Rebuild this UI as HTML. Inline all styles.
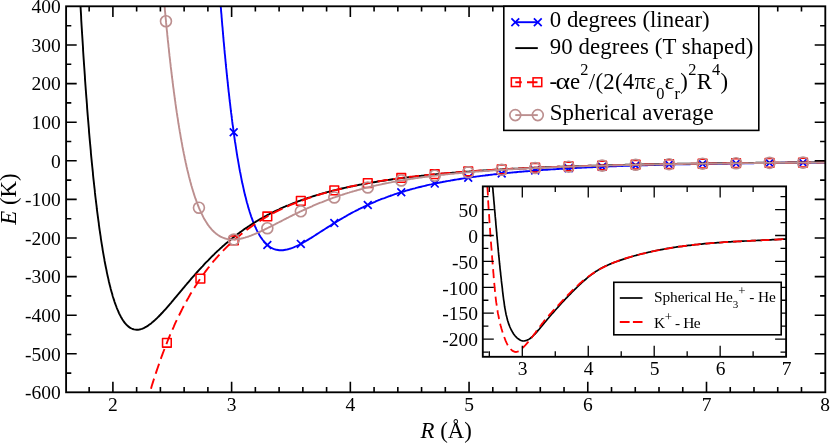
<!DOCTYPE html>
<html><head><meta charset="utf-8"><title>Potential energy curves</title>
<style>html,body{margin:0;padding:0;background:#fff;}body{width:830px;height:443px;overflow:hidden;font-family:"Liberation Serif",serif;}svg text{font-family:"Liberation Serif",serif;}</style></head>
<body>
<svg width="830" height="443" viewBox="0 0 830 443" style="display:block;will-change:transform">
<rect x="0" y="0" width="830" height="443" fill="#fff"/>
<defs><clipPath id="cm"><rect x="66.1" y="6.3" width="759.1999999999999" height="386.0"/></clipPath>
<clipPath id="ci"><rect x="482.8" y="186.4" width="303.3" height="170.4"/></clipPath></defs>
<g clip-path="url(#cm)" fill="none" stroke-linejoin="round">
<path d="M217.4,-39.4L217.6,-37.1L217.7,-34.9L217.9,-32.6L218.0,-30.4L218.2,-28.2L218.3,-26.0L218.5,-23.8L218.7,-21.7L218.8,-19.5L219.0,-17.4L219.1,-15.2L219.3,-13.1L219.4,-11.0L219.6,-8.9L219.7,-6.9L219.9,-4.8L220.1,-2.8L220.2,-0.7L220.4,1.3L220.5,3.3L220.7,5.3L220.8,7.3L221.0,9.2L221.1,11.2L221.3,13.1L221.5,15.0L221.6,17.0L221.8,18.9L221.9,20.8L222.1,22.6L222.2,24.5L222.4,26.4L222.6,28.2L222.7,30.0L222.9,31.9L223.0,33.7L223.2,35.5L223.3,37.2L223.5,39.0L223.6,40.8L223.8,42.5L224.0,44.3L224.1,46.0L224.3,47.7L224.4,49.4L224.6,51.1L224.7,52.8L224.9,54.5L225.1,56.1L225.2,57.8L225.4,59.4L225.5,61.0L225.7,62.6L225.8,64.2L226.0,65.8L226.1,67.4L226.3,69.0L226.5,70.6L226.6,72.1L226.8,73.6L226.9,75.2L227.1,76.7L227.2,78.2L227.4,79.7L227.6,81.2L227.7,82.7L227.9,84.1L228.0,85.6L228.2,87.0L228.3,88.5L228.5,89.9L228.6,91.3L228.8,92.7L229.0,94.1L229.1,95.5L229.3,96.9L229.4,98.3L229.6,99.6L229.7,101.0L229.9,102.3L230.1,103.7L230.2,105.0L230.4,106.3L230.5,107.6L230.7,108.9L230.8,110.2L231.0,111.5L231.1,112.7L231.3,114.0L231.5,115.2L231.6,116.5L231.8,117.7L231.9,118.9L232.1,120.2L232.2,121.4L232.4,122.6L232.5,123.8L232.9,126.1L233.2,128.4L233.5,130.7L233.8,133.0L234.1,135.2L234.4,137.4L234.7,139.5L235.0,141.7L235.4,143.8L235.7,145.8L236.0,147.9L236.3,149.9L236.6,151.8L236.9,153.8L237.2,155.7L237.5,157.6L237.9,159.5L238.2,161.3L238.5,163.1L238.8,164.9L239.1,166.6L239.4,168.3L239.7,170.0L240.0,171.7L240.4,173.3L240.7,175.0L241.0,176.6L241.3,178.1L241.6,179.7L241.9,181.2L242.2,182.7L242.5,184.1L242.9,185.6L243.2,187.0L243.5,188.4L243.8,189.8L244.1,191.2L244.4,192.5L244.7,193.8L245.0,195.1L245.4,196.4L245.7,197.6L246.0,198.8L246.3,200.0L246.6,201.2L246.9,202.4L247.4,204.1L247.9,205.8L248.3,207.4L248.8,209.0L249.3,210.5L249.7,212.0L250.2,213.5L250.7,214.9L251.1,216.3L251.6,217.6L252.1,218.9L252.5,220.2L253.0,221.4L253.5,222.6L253.9,223.8L254.4,224.9L255.0,226.4L255.7,227.7L256.3,229.1L256.9,230.4L257.5,231.6L258.2,232.8L258.8,233.9L259.4,235.0L260.0,236.0L260.8,237.3L261.6,238.4L262.4,239.5L263.2,240.5L263.9,241.5L264.9,242.6L265.8,243.5L266.7,244.4L267.7,245.3L268.6,246.0L269.7,246.8L270.8,247.5L271.9,248.1L273.0,248.6L274.2,249.1L275.5,249.5L276.7,249.8L278.0,250.0L279.2,250.2L280.5,250.2L281.7,250.2L283.0,250.2L284.2,250.0L285.5,249.8L286.7,249.6L288.0,249.3L289.2,248.9L290.5,248.5L291.7,248.1L293.0,247.6L294.2,247.1L295.5,246.5L296.6,246.0L297.7,245.5L298.8,245.0L299.9,244.4L300.9,243.8L302.0,243.2L303.1,242.6L304.2,242.0L305.3,241.4L306.4,240.7L307.5,240.1L308.6,239.4L309.7,238.7L310.8,238.1L311.9,237.4L313.0,236.7L314.1,236.0L315.2,235.3L316.2,234.6L317.3,233.9L318.4,233.2L319.5,232.5L320.6,231.8L321.7,231.1L322.8,230.4L323.9,229.7L325.0,229.0L326.1,228.3L327.2,227.6L328.3,226.9L329.4,226.2L330.5,225.5L331.6,224.8L332.6,224.1L333.7,223.4L334.8,222.8L335.9,222.1L337.0,221.4L338.1,220.8L339.2,220.1L340.3,219.4L341.4,218.8L342.5,218.2L343.6,217.5L344.7,216.9L345.8,216.3L346.9,215.6L347.9,215.0L349.0,214.4L350.1,213.8L351.2,213.2L352.3,212.6L353.4,212.0L354.5,211.5L355.6,210.9L356.7,210.3L357.8,209.8L358.9,209.2L360.0,208.7L361.1,208.1L362.2,207.6L363.3,207.1L364.3,206.5L365.4,206.0L366.5,205.5L367.6,205.0L368.7,204.5L370.0,203.9L371.2,203.4L372.5,202.8L373.7,202.3L375.0,201.8L376.2,201.2L377.5,200.7L378.7,200.2L380.0,199.7L381.2,199.2L382.5,198.7L383.7,198.3L385.0,197.8L386.2,197.3L387.5,196.9L388.7,196.4L390.0,196.0L391.2,195.5L392.5,195.1L393.7,194.7L395.0,194.2L396.2,193.8L397.4,193.4L398.7,193.0L399.9,192.6L401.2,192.2L402.4,191.8L403.7,191.5L404.9,191.1L406.2,190.7L407.4,190.3L408.7,190.0L409.9,189.6L411.2,189.3L412.4,188.9L413.7,188.6L414.9,188.3L416.2,187.9L417.4,187.6L418.7,187.3L419.9,187.0L421.2,186.7L422.4,186.4L423.7,186.1L424.9,185.8L426.2,185.5L427.4,185.2L428.7,184.9L429.9,184.6L431.2,184.4L432.4,184.1L433.7,183.8L434.9,183.6L436.2,183.3L437.4,183.0L438.7,182.8L439.9,182.5L441.2,182.3L442.4,182.0L443.7,181.8L444.9,181.6L446.2,181.3L447.4,181.1L448.7,180.9L449.9,180.7L451.2,180.4L452.4,180.2L453.7,180.0L454.9,179.8L456.2,179.6L457.4,179.4L458.7,179.2L459.9,179.0L461.2,178.8L462.4,178.6L463.7,178.4L464.9,178.2L466.2,178.0L467.4,177.8L468.7,177.6L469.9,177.5L471.2,177.3L472.4,177.1L473.7,176.9L474.9,176.8L476.2,176.6L477.4,176.4L478.7,176.3L479.9,176.1L481.1,175.9L482.4,175.8L483.6,175.6L484.9,175.5L486.1,175.3L487.4,175.2L488.6,175.0L489.9,174.9L491.1,174.7L492.4,174.6L493.6,174.4L494.9,174.3L496.1,174.2L497.4,174.0L498.6,173.9L499.9,173.7L501.1,173.6L502.4,173.5L503.6,173.4L504.9,173.2L506.1,173.1L507.4,173.0L508.6,172.9L509.9,172.7L511.1,172.6L512.4,172.5L513.6,172.4L514.9,172.3L516.1,172.2L517.4,172.0L518.6,171.9L519.9,171.8L521.1,171.7L522.4,171.6L523.6,171.5L524.9,171.4L526.1,171.3L527.4,171.2L528.6,171.1L529.9,171.0L531.1,170.9L532.4,170.8L533.6,170.7L534.9,170.6L536.1,170.5L537.4,170.4L538.6,170.3L539.9,170.2L541.1,170.1L542.4,170.0L543.6,169.9L544.9,169.9L546.1,169.8L547.4,169.7L548.6,169.6L549.9,169.5L551.1,169.4L552.4,169.4L553.6,169.3L554.9,169.2L556.1,169.1L557.4,169.0L558.6,169.0L559.9,168.9L561.1,168.8L562.3,168.7L563.6,168.7L564.8,168.6L566.1,168.5L567.3,168.4L568.6,168.4L569.8,168.3L571.1,168.2L572.3,168.2L573.6,168.1L574.8,168.0L576.1,168.0L577.3,167.9L578.6,167.8L579.8,167.8L581.1,167.7L582.3,167.6L583.6,167.6L584.8,167.5L586.1,167.5L587.3,167.4L588.6,167.3L589.8,167.3L591.1,167.2L592.3,167.2L593.6,167.1L594.8,167.1L596.1,167.0L597.3,166.9L598.6,166.9L599.8,166.8L601.1,166.8L602.3,166.7L603.6,166.7L604.8,166.6L606.1,166.6L607.3,166.5L608.6,166.5L609.8,166.4L611.1,166.4L612.3,166.3L613.6,166.3L614.8,166.2L616.1,166.2L617.3,166.1L618.6,166.1L619.8,166.1L621.1,166.0L622.3,166.0L623.6,165.9L624.8,165.9L626.1,165.8L627.3,165.8L628.6,165.8L629.8,165.7L631.1,165.7L632.3,165.6L633.6,165.6L634.8,165.6L636.1,165.5L637.3,165.5L638.6,165.4L639.8,165.4L641.1,165.4L642.3,165.3L643.6,165.3L644.8,165.2L646.0,165.2L647.3,165.2L648.5,165.1L649.8,165.1L651.0,165.1L652.3,165.0L653.5,165.0L654.8,165.0L656.0,164.9L657.3,164.9L658.5,164.9L659.8,164.8L661.0,164.8L662.3,164.8L663.5,164.7L664.8,164.7L666.0,164.7L667.3,164.7L668.5,164.6L669.8,164.6L671.0,164.6L672.3,164.5L673.5,164.5L674.8,164.5L676.0,164.4L677.3,164.4L678.5,164.4L679.8,164.4L681.0,164.3L682.3,164.3L683.5,164.3L684.8,164.3L686.0,164.2L687.3,164.2L688.5,164.2L689.8,164.2L691.0,164.1L692.3,164.1L693.5,164.1L694.8,164.1L696.0,164.0L697.3,164.0L698.5,164.0L699.8,164.0L701.0,163.9L702.3,163.9L703.5,163.9L704.8,163.9L706.0,163.9L707.3,163.8L708.5,163.8L709.8,163.8L711.0,163.8L712.3,163.7L713.5,163.7L714.8,163.7L716.0,163.7L717.3,163.7L718.5,163.6L719.8,163.6L721.0,163.6L722.3,163.6L723.5,163.6L724.8,163.5L726.0,163.5L727.3,163.5L728.5,163.5L729.7,163.5L731.0,163.5L732.2,163.4L733.5,163.4L734.7,163.4L736.0,163.4L737.2,163.4L738.5,163.3L739.7,163.3L741.0,163.3L742.2,163.3L743.5,163.3L744.7,163.3L746.0,163.2L747.2,163.2L748.5,163.2L749.7,163.2L751.0,163.2L752.2,163.2L753.5,163.2L754.7,163.1L756.0,163.1L757.2,163.1L758.5,163.1L759.7,163.1L761.0,163.1L762.2,163.0L763.5,163.0L764.7,163.0L766.0,163.0L767.2,163.0L768.5,163.0L769.7,163.0L771.0,163.0L772.2,162.9L773.5,162.9L774.7,162.9L776.0,162.9L777.2,162.9L778.5,162.9L779.7,162.9L781.0,162.8L782.2,162.8L783.5,162.8L784.7,162.8L786.0,162.8L787.2,162.8L788.5,162.8L789.7,162.8L791.0,162.7L792.2,162.7L793.5,162.7L794.7,162.7L796.0,162.7L797.2,162.7L798.5,162.7L799.7,162.7L801.0,162.7L802.2,162.6L803.5,162.6L804.7,162.6L806.0,162.6L807.2,162.6L808.5,162.6L809.7,162.6L810.9,162.6L812.2,162.6L813.4,162.6L814.7,162.5L815.9,162.5L817.2,162.5L818.4,162.5L819.7,162.5L820.9,162.5L822.2,162.5L823.4,162.5L824.7,162.5L825.9,162.5L827.2,162.4L828.4,162.4L829.7,162.4L830.9,162.4L832.2,162.4L832.3,162.4" stroke="#0000ff" stroke-width="1.9"/>
<path d="M229.80,128.40L237.60,136.20M229.80,136.20L237.60,128.40" stroke="#0000ff" stroke-width="1.7"/>
<path d="M263.44,241.08L271.24,248.88M263.44,248.88L271.24,241.08" stroke="#0000ff" stroke-width="1.7"/>
<path d="M296.92,240.00L304.72,247.80M296.92,247.80L304.72,240.00" stroke="#0000ff" stroke-width="1.7"/>
<path d="M330.40,219.19L338.20,226.99M330.40,226.99L338.20,219.19" stroke="#0000ff" stroke-width="1.7"/>
<path d="M363.88,201.03L371.68,208.83M363.88,208.83L371.68,201.03" stroke="#0000ff" stroke-width="1.7"/>
<path d="M397.36,188.30L405.16,196.10M397.36,196.10L405.16,188.30" stroke="#0000ff" stroke-width="1.7"/>
<path d="M430.84,179.70L438.64,187.50M430.84,187.50L438.64,179.70" stroke="#0000ff" stroke-width="1.7"/>
<path d="M464.32,173.81L472.12,181.61M464.32,181.61L472.12,173.81" stroke="#0000ff" stroke-width="1.7"/>
<path d="M497.80,169.66L505.60,177.46M497.80,177.46L505.60,169.66" stroke="#0000ff" stroke-width="1.7"/>
<path d="M531.28,166.67L539.08,174.47M531.28,174.47L539.08,166.67" stroke="#0000ff" stroke-width="1.7"/>
<path d="M564.76,164.47L572.56,172.27M564.76,172.27L572.56,164.47" stroke="#0000ff" stroke-width="1.7"/>
<path d="M598.24,162.84L606.04,170.64M598.24,170.64L606.04,162.84" stroke="#0000ff" stroke-width="1.7"/>
<path d="M631.72,161.62L639.52,169.42M631.72,169.42L639.52,161.62" stroke="#0000ff" stroke-width="1.7"/>
<path d="M665.20,160.71L673.00,168.51M665.20,168.51L673.00,160.71" stroke="#0000ff" stroke-width="1.7"/>
<path d="M698.68,160.01L706.48,167.81M698.68,167.81L706.48,160.01" stroke="#0000ff" stroke-width="1.7"/>
<path d="M732.16,159.48L739.96,167.28M732.16,167.28L739.96,159.48" stroke="#0000ff" stroke-width="1.7"/>
<path d="M765.64,159.07L773.44,166.87M765.64,166.87L773.44,159.07" stroke="#0000ff" stroke-width="1.7"/>
<path d="M799.12,158.74L806.92,166.54M799.12,166.54L806.92,158.74" stroke="#0000ff" stroke-width="1.7"/>
<path d="M78.2,-37.3L78.4,-33.5L78.6,-29.8L78.8,-26.1L79.0,-22.4L79.2,-18.7L79.3,-15.1L79.5,-11.6L79.7,-8.0L79.9,-4.5L80.1,-1.0L80.3,2.4L80.5,5.8L80.7,9.2L80.9,12.6L81.1,15.9L81.2,19.2L81.4,22.5L81.6,25.7L81.8,28.9L82.0,32.1L82.2,35.2L82.4,38.3L82.6,41.4L82.8,44.5L83.0,47.5L83.1,50.5L83.3,53.5L83.5,56.5L83.7,59.4L83.9,62.3L84.1,65.2L84.3,68.0L84.5,70.8L84.7,73.6L84.9,76.4L85.0,79.1L85.2,81.8L85.4,84.5L85.6,87.2L85.8,89.9L86.0,92.5L86.2,95.1L86.4,97.7L86.6,100.2L86.8,102.8L87.0,105.3L87.1,107.7L87.3,110.2L87.5,112.6L87.7,115.1L87.9,117.5L88.1,119.8L88.3,122.2L88.5,124.5L88.7,126.8L88.9,129.1L89.0,131.4L89.2,133.7L89.4,135.9L89.6,138.1L89.8,140.3L90.0,142.5L90.2,144.6L90.4,146.7L90.6,148.8L90.8,150.9L90.9,153.0L91.1,155.1L91.3,157.1L91.5,159.1L91.7,161.1L91.9,163.1L92.1,165.1L92.3,167.0L92.5,168.9L92.7,170.8L92.9,172.7L93.0,174.6L93.2,176.5L93.4,178.3L93.6,180.1L93.8,181.9L94.0,183.7L94.2,185.5L94.4,187.3L94.6,189.0L94.8,190.7L94.9,192.4L95.1,194.1L95.3,195.8L95.5,197.5L95.7,199.1L95.9,200.7L96.1,202.4L96.3,204.0L96.5,205.5L96.7,207.1L96.8,208.7L97.0,210.2L97.2,211.7L97.4,213.2L97.6,214.7L97.8,216.2L98.0,217.7L98.2,219.2L98.4,220.6L98.6,222.0L98.8,223.4L98.9,224.8L99.1,226.2L99.3,227.6L99.5,229.0L99.7,230.3L99.9,231.6L100.1,233.0L100.3,234.3L100.5,235.6L100.7,236.8L100.8,238.1L101.0,239.4L101.2,240.6L101.4,241.8L101.6,243.1L101.8,244.3L102.0,245.5L102.4,247.8L102.7,250.1L103.1,252.4L103.5,254.6L103.9,256.8L104.3,258.9L104.6,261.0L105.0,263.0L105.4,265.0L105.8,267.0L106.2,268.9L106.6,270.8L106.9,272.6L107.3,274.4L107.7,276.2L108.1,277.9L108.5,279.6L108.8,281.2L109.2,282.8L109.6,284.4L110.0,285.9L110.4,287.4L110.7,288.9L111.1,290.3L111.5,291.7L111.9,293.1L112.3,294.4L112.6,295.7L113.0,297.0L113.4,298.2L113.8,299.4L114.2,300.6L114.5,301.7L115.1,303.4L115.7,305.0L116.3,306.5L116.8,308.0L117.4,309.4L118.0,310.7L118.5,312.0L119.1,313.3L119.7,314.5L120.3,315.6L120.8,316.7L121.6,318.0L122.3,319.3L123.1,320.5L123.9,321.6L124.6,322.6L125.4,323.5L126.3,324.6L127.3,325.5L128.2,326.4L129.2,327.1L130.3,327.9L131.5,328.5L132.6,329.0L134.0,329.4L135.3,329.6L136.6,329.7L138.0,329.7L139.3,329.5L140.6,329.2L141.9,328.8L143.1,328.3L144.2,327.8L145.4,327.2L146.5,326.6L147.7,325.9L148.8,325.1L149.9,324.3L151.1,323.4L152.0,322.6L153.0,321.8L153.9,321.0L154.9,320.1L155.8,319.3L156.8,318.4L157.7,317.4L158.7,316.5L159.6,315.5L160.6,314.5L161.5,313.5L162.5,312.5L163.5,311.4L164.4,310.4L165.4,309.3L166.3,308.3L167.3,307.2L168.2,306.1L169.2,305.0L170.1,303.9L171.1,302.8L172.0,301.6L173.0,300.5L173.9,299.4L174.9,298.2L175.8,297.1L176.8,296.0L177.7,294.8L178.7,293.7L179.6,292.6L180.6,291.4L181.5,290.3L182.5,289.1L183.4,288.0L184.4,286.9L185.3,285.7L186.3,284.6L187.2,283.5L188.2,282.4L189.1,281.3L190.1,280.2L191.0,279.0L192.0,277.9L192.9,276.9L193.9,275.8L194.9,274.7L195.8,273.6L196.8,272.5L197.7,271.5L198.7,270.4L199.6,269.4L200.6,268.3L201.5,267.3L202.5,266.3L203.4,265.3L204.4,264.2L205.3,263.2L206.3,262.2L207.2,261.3L208.2,260.3L209.1,259.3L210.1,258.3L211.0,257.4L212.0,256.4L212.9,255.5L213.9,254.6L214.8,253.7L215.8,252.7L216.7,251.8L217.7,250.9L218.6,250.1L219.6,249.2L220.5,248.3L221.5,247.5L222.4,246.6L223.4,245.8L224.3,244.9L225.3,244.1L226.2,243.3L227.2,242.5L228.2,241.7L229.1,240.9L230.1,240.1L231.0,239.3L232.0,238.5L232.9,237.8L233.9,237.0L234.8,236.3L235.8,235.5L236.9,234.7L238.0,233.8L239.2,232.9L240.3,232.1L241.5,231.3L242.6,230.5L243.8,229.6L244.9,228.8L246.0,228.1L247.2,227.3L248.3,226.5L249.5,225.8L250.6,225.0L251.7,224.3L252.9,223.5L254.0,222.8L255.2,222.1L256.3,221.4L257.5,220.7L258.6,220.1L259.7,219.4L260.9,218.7L262.0,218.1L263.2,217.4L264.3,216.8L265.5,216.2L266.6,215.5L267.7,214.9L268.9,214.3L270.0,213.7L271.2,213.2L272.3,212.6L273.4,212.0L274.6,211.4L275.7,210.9L276.9,210.3L278.0,209.8L279.2,209.3L280.3,208.7L281.4,208.2L282.6,207.7L283.7,207.2L284.9,206.7L286.0,206.2L287.1,205.7L288.3,205.3L289.4,204.8L290.6,204.3L291.7,203.9L292.9,203.4L294.0,203.0L295.1,202.5L296.3,202.1L297.4,201.7L298.6,201.2L299.7,200.8L300.8,200.4L302.0,200.0L303.1,199.6L304.3,199.2L305.4,198.8L306.6,198.4L307.7,198.0L308.8,197.6L310.0,197.3L311.3,196.8L312.6,196.4L314.0,196.0L315.3,195.6L316.6,195.2L318.0,194.8L319.3,194.4L320.6,194.0L322.0,193.6L323.3,193.2L324.6,192.9L326.0,192.5L327.3,192.1L328.6,191.8L330.0,191.4L331.3,191.1L332.6,190.7L334.0,190.4L335.3,190.1L336.6,189.8L338.0,189.4L339.3,189.1L340.6,188.8L341.9,188.5L343.3,188.2L344.6,187.9L345.9,187.6L347.3,187.3L348.6,187.0L349.9,186.7L351.3,186.4L352.6,186.2L353.9,185.9L355.3,185.6L356.6,185.4L357.9,185.1L359.3,184.8L360.6,184.6L361.9,184.3L363.3,184.1L364.6,183.8L365.9,183.6L367.3,183.3L368.6,183.1L369.9,182.9L371.3,182.6L372.6,182.4L373.9,182.2L375.3,182.0L376.6,181.8L377.9,181.5L379.2,181.3L380.6,181.1L381.9,180.9L383.2,180.7L384.6,180.5L385.9,180.3L387.2,180.1L388.6,179.9L389.9,179.7L391.2,179.5L392.6,179.3L393.9,179.1L395.2,179.0L396.6,178.8L397.9,178.6L399.2,178.4L400.6,178.3L401.9,178.1L403.2,177.9L404.6,177.7L405.9,177.6L407.2,177.4L408.6,177.2L409.9,177.1L411.2,176.9L412.5,176.8L413.9,176.6L415.2,176.5L416.5,176.3L417.9,176.2L419.2,176.0L420.5,175.9L421.9,175.7L423.2,175.6L424.5,175.4L425.9,175.3L427.2,175.2L428.5,175.0L429.9,174.9L431.2,174.7L432.5,174.6L433.9,174.5L435.2,174.4L436.5,174.2L437.9,174.1L439.2,174.0L440.5,173.9L441.9,173.7L443.2,173.6L444.5,173.5L445.9,173.4L447.2,173.3L448.5,173.1L449.8,173.0L451.2,172.9L452.5,172.8L453.8,172.7L455.2,172.6L456.5,172.5L457.8,172.4L459.2,172.3L460.5,172.2L461.8,172.1L463.2,172.0L464.5,171.8L465.8,171.7L467.2,171.7L468.5,171.6L469.8,171.5L471.2,171.4L472.5,171.3L473.8,171.2L475.2,171.1L476.5,171.0L477.8,170.9L479.2,170.8L480.5,170.7L481.8,170.6L483.1,170.5L484.5,170.5L485.8,170.4L487.1,170.3L488.5,170.2L489.8,170.1L491.1,170.0L492.5,170.0L493.8,169.9L495.1,169.8L496.5,169.7L497.8,169.6L499.1,169.6L500.5,169.5L501.8,169.4L503.1,169.3L504.5,169.3L505.8,169.2L507.1,169.1L508.5,169.0L509.8,169.0L511.1,168.9L512.5,168.8L513.8,168.8L515.1,168.7L516.5,168.6L517.8,168.6L519.1,168.5L520.4,168.4L521.8,168.4L523.1,168.3L524.4,168.2L525.8,168.2L527.1,168.1L528.4,168.1L529.8,168.0L531.1,167.9L532.4,167.9L533.8,167.8L535.1,167.8L536.4,167.7L537.8,167.6L539.1,167.6L540.4,167.5L541.8,167.5L543.1,167.4L544.4,167.4L545.8,167.3L547.1,167.3L548.4,167.2L549.8,167.1L551.1,167.1L552.4,167.0L553.7,167.0L555.1,166.9L556.4,166.9L557.7,166.8L559.1,166.8L560.4,166.7L561.7,166.7L563.1,166.6L564.4,166.6L565.7,166.6L567.1,166.5L568.4,166.5L569.7,166.4L571.1,166.4L572.4,166.3L573.7,166.3L575.1,166.2L576.4,166.2L577.7,166.2L579.1,166.1L580.4,166.1L581.7,166.0L583.1,166.0L584.4,165.9L585.7,165.9L587.1,165.9L588.4,165.8L589.7,165.8L591.0,165.7L592.4,165.7L593.7,165.7L595.0,165.6L596.4,165.6L597.7,165.6L599.0,165.5L600.4,165.5L601.7,165.4L603.0,165.4L604.4,165.4L605.7,165.3L607.0,165.3L608.4,165.3L609.7,165.2L611.0,165.2L612.4,165.2L613.7,165.1L615.0,165.1L616.4,165.1L617.7,165.0L619.0,165.0L620.4,165.0L621.7,164.9L623.0,164.9L624.3,164.9L625.7,164.8L627.0,164.8L628.3,164.8L629.7,164.8L631.0,164.7L632.3,164.7L633.7,164.7L635.0,164.6L636.3,164.6L637.7,164.6L639.0,164.6L640.3,164.5L641.7,164.5L643.0,164.5L644.3,164.4L645.7,164.4L647.0,164.4L648.3,164.4L649.7,164.3L651.0,164.3L652.3,164.3L653.7,164.3L655.0,164.2L656.3,164.2L657.7,164.2L659.0,164.2L660.3,164.1L661.6,164.1L663.0,164.1L664.3,164.1L665.6,164.0L667.0,164.0L668.3,164.0L669.6,164.0L671.0,164.0L672.3,163.9L673.6,163.9L675.0,163.9L676.3,163.9L677.6,163.8L679.0,163.8L680.3,163.8L681.6,163.8L683.0,163.8L684.3,163.7L685.6,163.7L687.0,163.7L688.3,163.7L689.6,163.7L691.0,163.6L692.3,163.6L693.6,163.6L694.9,163.6L696.3,163.6L697.6,163.5L698.9,163.5L700.3,163.5L701.6,163.5L702.9,163.5L704.3,163.4L705.6,163.4L706.9,163.4L708.3,163.4L709.6,163.4L710.9,163.4L712.3,163.3L713.6,163.3L714.9,163.3L716.3,163.3L717.6,163.3L718.9,163.3L720.3,163.2L721.6,163.2L722.9,163.2L724.3,163.2L725.6,163.2L726.9,163.2L728.3,163.1L729.6,163.1L730.9,163.1L732.2,163.1L733.6,163.1L734.9,163.1L736.2,163.0L737.6,163.0L738.9,163.0L740.2,163.0L741.6,163.0L742.9,163.0L744.2,163.0L745.6,162.9L746.9,162.9L748.2,162.9L749.6,162.9L750.9,162.9L752.2,162.9L753.6,162.9L754.9,162.9L756.2,162.8L757.6,162.8L758.9,162.8L760.2,162.8L761.6,162.8L762.9,162.8L764.2,162.8L765.5,162.7L766.9,162.7L768.2,162.7L769.5,162.7L770.9,162.7L772.2,162.7L773.5,162.7L774.9,162.7L776.2,162.7L777.5,162.6L778.9,162.6L780.2,162.6L781.5,162.6L782.9,162.6L784.2,162.6L785.5,162.6L786.9,162.6L788.2,162.5L789.5,162.5L790.9,162.5L792.2,162.5L793.5,162.5L794.9,162.5L796.2,162.5L797.5,162.5L798.9,162.5L800.2,162.5L801.5,162.4L802.8,162.4L804.2,162.4L805.5,162.4L806.8,162.4L808.2,162.4L809.5,162.4L810.8,162.4L812.2,162.4L813.5,162.4L814.8,162.3L816.2,162.3L817.5,162.3L818.8,162.3L820.2,162.3L821.5,162.3L822.8,162.3L824.2,162.3L825.5,162.3L826.8,162.3L828.2,162.3L829.5,162.2L830.8,162.2L832.2,162.2L832.3,162.2" stroke="#000" stroke-width="1.9"/>
<path d="M140.0,428.9L141.0,424.9L142.0,421.0L143.0,417.2L143.9,413.5L144.9,409.8L145.9,406.2L146.9,402.6L147.9,399.1L148.9,395.7L149.9,392.3L150.9,389.0L151.8,385.8L152.8,382.6L153.8,379.5L154.8,376.4L155.8,373.4L156.8,370.4L157.8,367.5L158.8,364.6L159.7,361.8L160.7,359.1L161.7,356.3L162.7,353.7L163.7,351.0L164.7,348.4L165.7,345.9L166.7,343.4L167.6,341.0L168.6,338.5L169.6,336.2L170.6,333.8L171.6,331.5L172.6,329.3L173.6,327.1L174.5,324.9L175.5,322.7L176.5,320.6L177.5,318.5L178.5,316.5L179.5,314.5L180.5,312.5L181.5,310.5L182.4,308.6L183.4,306.7L184.4,304.9L185.4,303.1L186.4,301.3L187.4,299.5L188.4,297.8L189.4,296.0L190.3,294.3L191.3,292.7L192.3,291.1L193.3,289.4L194.3,287.9L195.3,286.3L196.3,284.8L197.3,283.2L198.2,281.8L199.2,280.3L200.2,278.8L201.2,277.4L202.2,276.0L203.2,274.6L204.2,273.3L205.2,271.9L206.1,270.6L207.1,269.3L208.1,268.0L209.1,266.8L210.1,265.5L211.1,264.3L212.1,263.1L213.0,261.9L214.0,260.7L215.0,259.6L216.0,258.4L217.0,257.3L218.0,256.2L219.0,255.1L220.0,254.0L220.9,253.0L221.9,251.9L222.9,250.9L223.9,249.9L224.9,248.9L225.9,247.9L226.9,246.9L227.9,245.9L228.8,245.0L229.8,244.1L230.8,243.1L231.8,242.2L232.8,241.3L233.8,240.4L234.8,239.6L235.8,238.7L236.7,237.9L237.7,237.0L238.7,236.2L239.7,235.4L240.7,234.6L241.7,233.8L242.7,233.0L243.6,232.2L244.6,231.5L245.6,230.7L246.6,230.0L247.6,229.3L248.6,228.5L249.6,227.8L250.6,227.1L251.5,226.4L252.5,225.7L254.5,224.4L256.5,223.1L258.5,221.8L260.4,220.6L262.4,219.4L264.4,218.2L266.4,217.0L268.3,215.9L270.3,214.8L272.3,213.8L274.2,212.7L276.2,211.7L278.2,210.7L280.2,209.7L282.1,208.8L284.1,207.9L286.1,207.0L288.1,206.1L290.0,205.2L292.0,204.4L294.0,203.6L296.0,202.8L297.9,202.0L299.9,201.2L301.9,200.5L303.9,199.8L305.8,199.1L307.8,198.4L309.8,197.7L311.8,197.0L313.7,196.4L315.7,195.7L317.7,195.1L319.7,194.5L321.6,193.9L323.6,193.4L325.6,192.8L327.6,192.2L329.5,191.7L331.5,191.2L333.5,190.6L335.5,190.1L337.4,189.6L339.4,189.1L341.4,188.7L343.3,188.2L345.3,187.7L347.3,187.3L349.3,186.9L351.2,186.4L353.2,186.0L355.2,185.6L357.2,185.2L359.1,184.8L361.1,184.4L363.1,184.0L365.1,183.6L367.0,183.3L369.0,182.9L371.0,182.6L373.0,182.2L374.9,181.9L376.9,181.6L378.9,181.2L380.9,180.9L382.8,180.6L384.8,180.3L386.8,180.0L388.8,179.7L390.7,179.4L392.7,179.1L394.7,178.9L396.7,178.6L398.6,178.3L400.6,178.1L402.6,177.8L404.5,177.6L406.5,177.3L408.5,177.1L410.5,176.8L412.4,176.6L414.4,176.4L416.4,176.1L418.4,175.9L420.3,175.7L422.3,175.5L424.3,175.3L426.3,175.1L428.2,174.9L430.2,174.7L432.2,174.5L434.2,174.3L436.1,174.1L438.1,173.9L440.1,173.7L442.1,173.5L444.0,173.4L446.0,173.2L448.0,173.0L450.0,172.9L451.9,172.7L453.9,172.5L455.9,172.4L457.9,172.2L459.8,172.1L461.8,171.9L463.8,171.8L465.8,171.6L467.7,171.5L469.7,171.3L471.7,171.2L473.6,171.1L475.6,170.9L477.6,170.8L479.6,170.7L481.5,170.5L483.5,170.4L485.5,170.3L487.5,170.2L489.4,170.0L491.4,169.9L493.4,169.8L495.4,169.7L497.3,169.6L499.3,169.5L501.3,169.4L503.3,169.3L505.2,169.1L507.2,169.0L509.2,168.9L511.2,168.8L513.1,168.7L515.1,168.6L517.1,168.5L519.1,168.5L521.0,168.4L523.0,168.3L525.0,168.2L527.0,168.1L528.9,168.0L530.9,167.9L532.9,167.8L534.8,167.7L536.8,167.7L538.8,167.6L540.8,167.5L542.7,167.4L544.7,167.3L546.7,167.3L548.7,167.2L550.6,167.1L552.6,167.0L554.6,167.0L556.6,166.9L558.5,166.8L560.5,166.8L562.5,166.7L564.5,166.6L566.4,166.6L568.4,166.5L570.4,166.4L572.4,166.4L574.3,166.3L576.3,166.2L578.3,166.2L580.3,166.1L582.2,166.1L584.2,166.0L586.2,165.9L588.2,165.9L590.1,165.8L592.1,165.8L594.1,165.7L596.1,165.7L598.0,165.6L600.0,165.6L602.0,165.5L603.9,165.5L605.9,165.4L607.9,165.4L609.9,165.3L611.8,165.3L613.8,165.2L615.8,165.2L617.8,165.1L619.7,165.1L621.7,165.0L623.7,165.0L625.7,164.9L627.6,164.9L629.6,164.9L631.6,164.8L633.6,164.8L635.5,164.7L637.5,164.7L639.5,164.7L641.5,164.6L643.4,164.6L645.4,164.5L647.4,164.5L649.4,164.5L651.3,164.4L653.3,164.4L655.3,164.4L657.3,164.3L659.2,164.3L661.2,164.2L663.2,164.2L665.2,164.2L667.1,164.1L669.1,164.1L671.1,164.1L673.0,164.0L675.0,164.0L677.0,164.0L679.0,163.9L680.9,163.9L682.9,163.9L684.9,163.9L686.9,163.8L688.8,163.8L690.8,163.8L692.8,163.7L694.8,163.7L696.7,163.7L698.7,163.7L700.7,163.6L702.7,163.6L704.6,163.6L706.6,163.6L708.6,163.5L710.6,163.5L712.5,163.5L714.5,163.4L716.5,163.4L718.5,163.4L720.4,163.4L722.4,163.4L724.4,163.3L726.4,163.3L728.3,163.3L730.3,163.3L732.3,163.2L734.2,163.2L736.2,163.2L738.2,163.2L740.2,163.1L742.1,163.1L744.1,163.1L746.1,163.1L748.1,163.1L750.0,163.0L752.0,163.0L754.0,163.0L756.0,163.0L757.9,163.0L759.9,162.9L761.9,162.9L763.9,162.9L765.8,162.9L767.8,162.9L769.8,162.9L771.8,162.8L773.7,162.8L775.7,162.8L777.7,162.8L779.7,162.8L781.6,162.7L783.6,162.7L785.6,162.7L787.6,162.7L789.5,162.7L791.5,162.7L793.5,162.6L795.5,162.6L797.4,162.6L799.4,162.6L801.4,162.6L803.3,162.6L805.3,162.6L807.3,162.5L809.3,162.5L811.2,162.5L813.2,162.5L815.2,162.5L817.2,162.5L819.1,162.5L821.1,162.4L823.1,162.4L825.1,162.4L827.0,162.4L829.0,162.4L830.0,162.4" stroke="#ff0000" stroke-width="1.9" stroke-dasharray="10.5 5.2" stroke-dashoffset="5.4"/>
<rect x="162.55" y="338.44" width="8.7" height="8.7" stroke="#ff0000" stroke-width="1.55"/>
<rect x="196.03" y="274.25" width="8.7" height="8.7" stroke="#ff0000" stroke-width="1.55"/>
<rect x="229.51" y="236.02" width="8.7" height="8.7" stroke="#ff0000" stroke-width="1.55"/>
<rect x="262.99" y="212.12" width="8.7" height="8.7" stroke="#ff0000" stroke-width="1.55"/>
<rect x="296.47" y="196.56" width="8.7" height="8.7" stroke="#ff0000" stroke-width="1.55"/>
<rect x="329.95" y="186.07" width="8.7" height="8.7" stroke="#ff0000" stroke-width="1.55"/>
<rect x="363.43" y="178.80" width="8.7" height="8.7" stroke="#ff0000" stroke-width="1.55"/>
<rect x="396.91" y="173.63" width="8.7" height="8.7" stroke="#ff0000" stroke-width="1.55"/>
<rect x="430.39" y="169.87" width="8.7" height="8.7" stroke="#ff0000" stroke-width="1.55"/>
<rect x="463.87" y="167.08" width="8.7" height="8.7" stroke="#ff0000" stroke-width="1.55"/>
<rect x="497.35" y="164.99" width="8.7" height="8.7" stroke="#ff0000" stroke-width="1.55"/>
<rect x="530.83" y="163.38" width="8.7" height="8.7" stroke="#ff0000" stroke-width="1.55"/>
<rect x="564.31" y="162.14" width="8.7" height="8.7" stroke="#ff0000" stroke-width="1.55"/>
<rect x="597.79" y="161.16" width="8.7" height="8.7" stroke="#ff0000" stroke-width="1.55"/>
<rect x="631.27" y="160.38" width="8.7" height="8.7" stroke="#ff0000" stroke-width="1.55"/>
<rect x="664.75" y="159.76" width="8.7" height="8.7" stroke="#ff0000" stroke-width="1.55"/>
<rect x="698.23" y="159.26" width="8.7" height="8.7" stroke="#ff0000" stroke-width="1.55"/>
<rect x="731.71" y="158.84" width="8.7" height="8.7" stroke="#ff0000" stroke-width="1.55"/>
<rect x="765.19" y="158.50" width="8.7" height="8.7" stroke="#ff0000" stroke-width="1.55"/>
<rect x="798.67" y="158.22" width="8.7" height="8.7" stroke="#ff0000" stroke-width="1.55"/>
<path d="M160.7,-39.7L160.8,-37.6L161.0,-35.4L161.2,-33.3L161.3,-31.2L161.5,-29.1L161.7,-27.0L161.9,-24.9L162.0,-22.8L162.2,-20.8L162.4,-18.8L162.5,-16.7L162.7,-14.7L162.9,-12.7L163.1,-10.7L163.2,-8.8L163.4,-6.8L163.6,-4.9L163.7,-2.9L163.9,-1.0L164.1,0.9L164.2,2.8L164.4,4.7L164.6,6.6L164.8,8.4L164.9,10.3L165.1,12.1L165.3,13.9L165.4,15.7L165.6,17.5L165.8,19.3L166.0,21.1L166.1,22.9L166.3,24.6L166.5,26.4L166.6,28.1L166.8,29.8L167.0,31.5L167.2,33.2L167.3,34.9L167.5,36.6L167.7,38.3L167.8,39.9L168.0,41.6L168.2,43.2L168.4,44.8L168.5,46.4L168.7,48.0L168.9,49.6L169.0,51.2L169.2,52.8L169.4,54.3L169.5,55.9L169.7,57.4L169.9,58.9L170.1,60.4L170.2,61.9L170.4,63.4L170.6,64.9L170.7,66.4L170.9,67.9L171.1,69.3L171.3,70.8L171.4,72.2L171.6,73.6L171.8,75.1L171.9,76.5L172.1,77.9L172.3,79.2L172.5,80.6L172.6,82.0L172.8,83.4L173.0,84.7L173.1,86.0L173.3,87.4L173.5,88.7L173.7,90.0L173.8,91.3L174.0,92.6L174.2,93.9L174.3,95.2L174.5,96.4L174.7,97.7L174.8,99.0L175.0,100.2L175.2,101.4L175.4,102.7L175.5,103.9L175.7,105.1L175.9,106.3L176.0,107.5L176.4,109.8L176.7,112.2L177.1,114.5L177.4,116.7L177.8,118.9L178.1,121.1L178.4,123.3L178.8,125.4L179.1,127.5L179.5,129.6L179.8,131.7L180.2,133.7L180.5,135.7L180.8,137.6L181.2,139.5L181.5,141.4L181.9,143.3L182.2,145.2L182.5,147.0L182.9,148.8L183.2,150.5L183.6,152.3L183.9,154.0L184.3,155.7L184.6,157.3L184.9,159.0L185.3,160.6L185.6,162.2L186.0,163.7L186.3,165.3L186.6,166.8L187.0,168.3L187.3,169.7L187.7,171.2L188.0,172.6L188.4,174.0L188.7,175.4L189.0,176.7L189.4,178.1L189.7,179.4L190.1,180.7L190.4,182.0L190.8,183.2L191.1,184.4L191.4,185.7L191.8,186.8L192.1,188.0L192.5,189.2L193.0,190.9L193.5,192.5L194.0,194.1L194.5,195.7L195.0,197.2L195.5,198.7L196.1,200.2L196.6,201.6L197.1,203.0L197.6,204.3L198.1,205.6L198.6,206.9L199.1,208.2L199.6,209.4L200.2,210.5L200.7,211.7L201.2,212.8L201.9,214.2L202.6,215.6L203.2,216.9L203.9,218.2L204.6,219.4L205.3,220.6L206.0,221.7L206.7,222.8L207.3,223.9L208.0,224.9L208.9,226.0L209.7,227.2L210.6,228.2L211.4,229.2L212.3,230.2L213.2,231.0L214.2,232.0L215.2,232.9L216.2,233.8L217.3,234.6L218.3,235.3L219.3,235.9L220.5,236.6L221.7,237.2L222.9,237.7L224.1,238.1L225.3,238.5L226.5,238.8L227.7,239.1L228.9,239.3L230.1,239.4L231.3,239.5L232.6,239.5L234.0,239.5L235.4,239.4L236.6,239.3L237.8,239.2L239.0,239.0L240.2,238.8L241.4,238.5L242.6,238.3L243.8,237.9L245.0,237.6L246.2,237.2L247.4,236.9L248.6,236.5L249.7,236.0L250.9,235.6L252.1,235.1L253.3,234.6L254.5,234.2L255.7,233.6L256.9,233.1L258.1,232.6L259.3,232.0L260.5,231.5L261.7,230.9L262.9,230.4L264.1,229.8L265.3,229.2L266.5,228.6L267.7,228.0L268.9,227.4L270.1,226.8L271.3,226.2L272.5,225.6L273.7,225.0L274.9,224.4L276.1,223.7L277.3,223.1L278.5,222.5L279.7,221.9L280.9,221.3L282.1,220.7L283.3,220.0L284.5,219.4L285.7,218.8L286.9,218.2L288.1,217.6L289.2,217.0L290.4,216.4L291.6,215.8L292.8,215.2L294.0,214.6L295.2,214.0L296.4,213.4L297.6,212.9L298.8,212.3L300.0,211.7L301.2,211.2L302.4,210.6L303.6,210.0L304.8,209.5L306.0,208.9L307.2,208.4L308.4,207.8L309.6,207.3L310.8,206.8L312.0,206.3L313.2,205.7L314.4,205.2L315.6,204.7L316.8,204.2L318.0,203.7L319.2,203.2L320.4,202.7L321.6,202.3L322.8,201.8L324.0,201.3L325.2,200.8L326.4,200.4L327.6,199.9L328.7,199.5L329.9,199.0L331.1,198.6L332.3,198.2L333.5,197.7L334.7,197.3L335.9,196.9L337.1,196.5L338.3,196.1L339.5,195.6L340.7,195.2L341.9,194.9L343.1,194.5L344.3,194.1L345.5,193.7L346.7,193.3L347.9,192.9L349.1,192.6L350.3,192.2L351.5,191.9L352.7,191.5L353.9,191.2L355.1,190.8L356.3,190.5L357.5,190.1L358.7,189.8L359.9,189.5L361.1,189.2L362.3,188.9L363.5,188.5L364.7,188.2L365.9,187.9L367.1,187.6L368.3,187.3L369.4,187.0L370.6,186.7L371.8,186.5L373.0,186.2L374.2,185.9L375.4,185.6L376.6,185.3L377.8,185.1L379.0,184.8L380.2,184.6L381.4,184.3L382.6,184.0L383.8,183.8L385.0,183.5L386.2,183.3L387.4,183.1L388.6,182.8L389.8,182.6L391.0,182.4L392.2,182.1L393.4,181.9L394.6,181.7L395.8,181.5L397.0,181.2L398.2,181.0L399.4,180.8L400.6,180.6L401.8,180.4L403.0,180.2L404.2,180.0L405.4,179.8L406.6,179.6L407.8,179.4L408.9,179.2L410.1,179.0L411.3,178.9L412.5,178.7L413.7,178.5L414.9,178.3L416.1,178.1L417.3,178.0L418.5,177.8L419.7,177.6L420.9,177.5L422.1,177.3L423.3,177.1L424.5,177.0L425.7,176.8L426.9,176.7L428.1,176.5L429.3,176.3L430.5,176.2L431.7,176.0L432.9,175.9L434.1,175.8L435.3,175.6L436.5,175.5L437.7,175.3L438.9,175.2L440.1,175.1L441.3,174.9L442.5,174.8L443.7,174.7L444.9,174.5L446.1,174.4L447.3,174.3L448.4,174.1L449.6,174.0L450.8,173.9L452.0,173.8L453.2,173.7L454.4,173.5L455.6,173.4L456.8,173.3L458.0,173.2L459.2,173.1L460.4,173.0L461.6,172.9L462.8,172.8L464.0,172.6L465.2,172.5L466.4,172.4L467.6,172.3L468.8,172.2L470.0,172.1L471.2,172.0L472.4,171.9L473.6,171.8L474.8,171.7L476.0,171.6L477.2,171.5L478.4,171.5L479.6,171.4L480.8,171.3L482.0,171.2L483.2,171.1L484.4,171.0L485.6,170.9L486.8,170.8L488.0,170.7L489.3,170.7L490.7,170.6L492.1,170.5L493.4,170.4L494.8,170.3L496.2,170.2L497.5,170.1L498.9,170.0L500.3,169.9L501.6,169.8L503.0,169.8L504.4,169.7L505.7,169.6L507.1,169.5L508.5,169.4L509.8,169.3L511.2,169.3L512.6,169.2L513.9,169.1L515.3,169.0L516.7,169.0L518.0,168.9L519.4,168.8L520.8,168.7L522.2,168.7L523.5,168.6L524.9,168.5L526.3,168.5L527.6,168.4L529.0,168.3L530.4,168.3L531.7,168.2L533.1,168.1L534.5,168.1L535.8,168.0L537.2,167.9L538.6,167.9L539.9,167.8L541.3,167.8L542.7,167.7L544.0,167.6L545.4,167.6L546.8,167.5L548.1,167.5L549.5,167.4L550.9,167.4L552.2,167.3L553.6,167.2L555.0,167.2L556.3,167.1L557.7,167.1L559.1,167.0L560.5,167.0L561.8,166.9L563.2,166.9L564.6,166.8L565.9,166.8L567.3,166.7L568.7,166.7L570.0,166.6L571.4,166.6L572.8,166.5L574.1,166.5L575.5,166.4L576.9,166.4L578.2,166.4L579.6,166.3L581.0,166.3L582.3,166.2L583.7,166.2L585.1,166.1L586.4,166.1L587.8,166.1L589.2,166.0L590.5,166.0L591.9,165.9L593.3,165.9L594.7,165.9L596.0,165.8L597.4,165.8L598.8,165.7L600.1,165.7L601.5,165.7L602.9,165.6L604.2,165.6L605.6,165.5L607.0,165.5L608.3,165.5L609.7,165.4L611.1,165.4L612.4,165.4L613.8,165.3L615.2,165.3L616.5,165.3L617.9,165.2L619.3,165.2L620.6,165.2L622.0,165.1L623.4,165.1L624.7,165.1L626.1,165.0L627.5,165.0L628.9,165.0L630.2,164.9L631.6,164.9L633.0,164.9L634.3,164.9L635.7,164.8L637.1,164.8L638.4,164.8L639.8,164.7L641.2,164.7L642.5,164.7L643.9,164.7L645.3,164.6L646.6,164.6L648.0,164.6L649.4,164.5L650.7,164.5L652.1,164.5L653.5,164.5L654.8,164.4L656.2,164.4L657.6,164.4L658.9,164.4L660.3,164.3L661.7,164.3L663.1,164.3L664.4,164.3L665.8,164.2L667.2,164.2L668.5,164.2L669.9,164.2L671.3,164.1L672.6,164.1L674.0,164.1L675.4,164.1L676.7,164.1L678.1,164.0L679.5,164.0L680.8,164.0L682.2,164.0L683.6,163.9L684.9,163.9L686.3,163.9L687.7,163.9L689.0,163.9L690.4,163.8L691.8,163.8L693.1,163.8L694.5,163.8L695.9,163.8L697.3,163.7L698.6,163.7L700.0,163.7L701.4,163.7L702.7,163.7L704.1,163.6L705.5,163.6L706.8,163.6L708.2,163.6L709.6,163.6L710.9,163.5L712.3,163.5L713.7,163.5L715.0,163.5L716.4,163.5L717.8,163.5L719.1,163.4L720.5,163.4L721.9,163.4L723.2,163.4L724.6,163.4L726.0,163.4L727.3,163.3L728.7,163.3L730.1,163.3L731.5,163.3L732.8,163.3L734.2,163.3L735.6,163.2L736.9,163.2L738.3,163.2L739.7,163.2L741.0,163.2L742.4,163.2L743.8,163.2L745.1,163.1L746.5,163.1L747.9,163.1L749.2,163.1L750.6,163.1L752.0,163.1L753.3,163.1L754.7,163.0L756.1,163.0L757.4,163.0L758.8,163.0L760.2,163.0L761.5,163.0L762.9,163.0L764.3,162.9L765.7,162.9L767.0,162.9L768.4,162.9L769.8,162.9L771.1,162.9L772.5,162.9L773.9,162.9L775.2,162.8L776.6,162.8L778.0,162.8L779.3,162.8L780.7,162.8L782.1,162.8L783.4,162.8L784.8,162.8L786.2,162.7L787.5,162.7L788.9,162.7L790.3,162.7L791.6,162.7L793.0,162.7L794.4,162.7L795.7,162.7L797.1,162.7L798.5,162.6L799.9,162.6L801.2,162.6L802.6,162.6L804.0,162.6L805.3,162.6L806.7,162.6L808.1,162.6L809.4,162.6L810.8,162.5L812.2,162.5L813.5,162.5L814.9,162.5L816.3,162.5L817.6,162.5L819.0,162.5L820.4,162.5L821.7,162.5L823.1,162.5L824.5,162.4L825.8,162.4L827.2,162.4L828.6,162.4L829.9,162.4L831.3,162.4L832.3,162.4" stroke="#bc8f8f" stroke-width="1.9"/>
<circle cx="165.97" cy="21.20" r="5.45" stroke="#bc8f8f" stroke-width="1.65"/>
<circle cx="198.94" cy="207.70" r="5.45" stroke="#bc8f8f" stroke-width="1.65"/>
<circle cx="233.86" cy="239.53" r="5.45" stroke="#bc8f8f" stroke-width="1.65"/>
<circle cx="267.34" cy="228.19" r="5.45" stroke="#bc8f8f" stroke-width="1.65"/>
<circle cx="300.82" cy="211.34" r="5.45" stroke="#bc8f8f" stroke-width="1.65"/>
<circle cx="334.30" cy="197.45" r="5.45" stroke="#bc8f8f" stroke-width="1.65"/>
<circle cx="367.78" cy="187.44" r="5.45" stroke="#bc8f8f" stroke-width="1.65"/>
<circle cx="401.26" cy="180.49" r="5.45" stroke="#bc8f8f" stroke-width="1.65"/>
<circle cx="434.74" cy="175.67" r="5.45" stroke="#bc8f8f" stroke-width="1.65"/>
<circle cx="468.22" cy="172.28" r="5.45" stroke="#bc8f8f" stroke-width="1.65"/>
<circle cx="501.70" cy="169.84" r="5.45" stroke="#bc8f8f" stroke-width="1.65"/>
<circle cx="535.18" cy="168.04" r="5.45" stroke="#bc8f8f" stroke-width="1.65"/>
<circle cx="568.66" cy="166.68" r="5.45" stroke="#bc8f8f" stroke-width="1.65"/>
<circle cx="602.14" cy="165.64" r="5.45" stroke="#bc8f8f" stroke-width="1.65"/>
<circle cx="635.62" cy="164.83" r="5.45" stroke="#bc8f8f" stroke-width="1.65"/>
<circle cx="669.10" cy="164.18" r="5.45" stroke="#bc8f8f" stroke-width="1.65"/>
<circle cx="702.58" cy="163.66" r="5.45" stroke="#bc8f8f" stroke-width="1.65"/>
<circle cx="736.06" cy="163.24" r="5.45" stroke="#bc8f8f" stroke-width="1.65"/>
<circle cx="769.54" cy="162.89" r="5.45" stroke="#bc8f8f" stroke-width="1.65"/>
<circle cx="803.02" cy="162.61" r="5.45" stroke="#bc8f8f" stroke-width="1.65"/>
</g>
<g stroke="#000" stroke-width="1.85" fill="none" stroke-linecap="butt">
<rect x="66.1" y="6.3" width="759.1999999999999" height="386.0"/>
<path d="M89.16,392.3v-5.2M89.16,6.3v5.2M112.90,392.3v-10.6M112.90,6.3v10.6M136.64,392.3v-5.2M136.64,6.3v5.2M160.39,392.3v-5.2M160.39,6.3v5.2M184.13,392.3v-5.2M184.13,6.3v5.2M207.88,392.3v-5.2M207.88,6.3v5.2M231.62,392.3v-10.6M231.62,6.3v10.6M255.36,392.3v-5.2M255.36,6.3v5.2M279.11,392.3v-5.2M279.11,6.3v5.2M302.85,392.3v-5.2M302.85,6.3v5.2M326.60,392.3v-5.2M326.60,6.3v5.2M350.34,392.3v-10.6M350.34,6.3v10.6M374.08,392.3v-5.2M374.08,6.3v5.2M397.83,392.3v-5.2M397.83,6.3v5.2M421.57,392.3v-5.2M421.57,6.3v5.2M445.32,392.3v-5.2M445.32,6.3v5.2M469.06,392.3v-10.6M469.06,6.3v10.6M492.80,392.3v-5.2M492.80,6.3v5.2M516.55,392.3v-5.2M516.55,6.3v5.2M540.29,392.3v-5.2M540.29,6.3v5.2M564.04,392.3v-5.2M564.04,6.3v5.2M587.78,392.3v-10.6M587.78,6.3v10.6M611.52,392.3v-5.2M611.52,6.3v5.2M635.27,392.3v-5.2M635.27,6.3v5.2M659.01,392.3v-5.2M659.01,6.3v5.2M682.76,392.3v-5.2M682.76,6.3v5.2M706.50,392.3v-10.6M706.50,6.3v10.6M730.24,392.3v-5.2M730.24,6.3v5.2M753.99,392.3v-5.2M753.99,6.3v5.2M777.73,392.3v-5.2M777.73,6.3v5.2M801.48,392.3v-5.2M801.48,6.3v5.2M66.1,373.10h5.2M825.3,373.10h-5.2M66.1,353.80h10.6M825.3,353.80h-10.6M66.1,334.50h5.2M825.3,334.50h-5.2M66.1,315.20h10.6M825.3,315.20h-10.6M66.1,295.90h5.2M825.3,295.90h-5.2M66.1,276.60h10.6M825.3,276.60h-10.6M66.1,257.30h5.2M825.3,257.30h-5.2M66.1,238.00h10.6M825.3,238.00h-10.6M66.1,218.70h5.2M825.3,218.70h-5.2M66.1,199.40h10.6M825.3,199.40h-10.6M66.1,180.10h5.2M825.3,180.10h-5.2M66.1,160.80h10.6M825.3,160.80h-10.6M66.1,141.50h5.2M825.3,141.50h-5.2M66.1,122.20h10.6M825.3,122.20h-10.6M66.1,102.90h5.2M825.3,102.90h-5.2M66.1,83.60h10.6M825.3,83.60h-10.6M66.1,64.30h5.2M825.3,64.30h-5.2M66.1,45.00h10.6M825.3,45.00h-10.6M66.1,25.70h5.2M825.3,25.70h-5.2" stroke-width="1.6"/>
</g>
<g font-family="Liberation Serif, serif" font-size="19.5" fill="#000">
<text x="60.8" y="399.10" text-anchor="end">-600</text>
<text x="60.8" y="360.50" text-anchor="end">-500</text>
<text x="60.8" y="321.90" text-anchor="end">-400</text>
<text x="60.8" y="283.30" text-anchor="end">-300</text>
<text x="60.8" y="244.70" text-anchor="end">-200</text>
<text x="60.8" y="206.10" text-anchor="end">-100</text>
<text x="60.8" y="167.50" text-anchor="end">0</text>
<text x="60.8" y="128.90" text-anchor="end">100</text>
<text x="60.8" y="90.30" text-anchor="end">200</text>
<text x="60.8" y="51.70" text-anchor="end">300</text>
<text x="60.8" y="13.10" text-anchor="end">400</text>
<text x="112.90" y="411.2" text-anchor="middle">2</text>
<text x="231.62" y="411.2" text-anchor="middle">3</text>
<text x="350.34" y="411.2" text-anchor="middle">4</text>
<text x="469.06" y="411.2" text-anchor="middle">5</text>
<text x="587.78" y="411.2" text-anchor="middle">6</text>
<text x="706.50" y="411.2" text-anchor="middle">7</text>
<text x="825.22" y="411.2" text-anchor="middle">8</text>
</g>
<g font-family="Liberation Serif, serif" font-size="22.8" fill="#000">
<text x="446.2" y="437.7" text-anchor="middle" textLength="51.4" lengthAdjust="spacing"><tspan font-style="italic">R</tspan> (Å)</text>
<text transform="translate(16.1,199.0) rotate(-90)" text-anchor="middle" textLength="51.4" lengthAdjust="spacing"><tspan font-style="italic">E</tspan> (K)</text>
</g>
<rect x="503.8" y="6.3" width="254.99999999999994" height="124.10000000000001" fill="#fff" stroke="#000" stroke-width="1.6"/>
<g fill="none"><path d="M515.3,22.2H537.8" stroke="#0000ff" stroke-width="1.9"/>
<path d="M511.4,18.3L519.1999999999999,26.099999999999998M511.4,26.099999999999998L519.1999999999999,18.3" stroke="#0000ff" stroke-width="1.7"/>
<path d="M533.9,18.3L541.6999999999999,26.099999999999998M533.9,26.099999999999998L541.6999999999999,18.3" stroke="#0000ff" stroke-width="1.7"/>
<path d="M515.3,48.1H537.8" stroke="#000" stroke-width="1.9"/>
<path d="M515.3,82.2H537.8" stroke="#ff0000" stroke-width="1.9" stroke-dasharray="10.5 5.2" stroke-dashoffset="4"/>
<rect x="511.35" y="77.85" width="8.7" height="8.7" stroke="#ff0000" stroke-width="1.55"/>
<rect x="533.05" y="77.85" width="8.7" height="8.7" stroke="#ff0000" stroke-width="1.55"/>
<path d="M515.3,115.1H537.8" stroke="#bc8f8f" stroke-width="1.9"/>
<circle cx="515.3" cy="115.1" r="5.45" stroke="#bc8f8f" stroke-width="1.65"/>
<circle cx="537.8" cy="115.1" r="5.45" stroke="#bc8f8f" stroke-width="1.65"/>
</g>
<g font-family="Liberation Serif, serif" font-size="22.8" fill="#000">
<text x="549.8" y="27.3" textLength="159.8" lengthAdjust="spacing">0 degrees (linear)</text>
<text x="549.8" y="53.5" textLength="203.6" lengthAdjust="spacing">90 degrees (T shaped)</text>
<text x="549.6" y="89.4">-</text>
<text transform="translate(555.4,89.4) scale(1.22,1)">α</text>
<text x="569.9" y="89.4" textLength="158.3" lengthAdjust="spacing">e<tspan font-size="16.4" dy="-14.6">2</tspan><tspan dy="14.6">/(2(4πε</tspan><tspan font-size="16.4" dy="9.8">0</tspan><tspan dy="-9.8">ε</tspan><tspan font-size="16.4" dy="9.8">r</tspan><tspan dy="-9.8">)</tspan><tspan font-size="16.4" dy="-14.6">2</tspan><tspan dy="14.6">R</tspan><tspan font-size="16.4" dy="-14.6">4</tspan><tspan dy="14.6">)</tspan></text>
<text x="549.8" y="120.1" textLength="163.8" lengthAdjust="spacing">Spherical average</text>
</g>
<rect x="482.8" y="186.4" width="303.3" height="170.4" fill="#fff" stroke="none"/>
<g clip-path="url(#ci)" fill="none" stroke-linejoin="round">
<path d="M490.2,160.0L490.3,161.6L490.5,163.2L490.7,164.8L490.8,166.5L491.0,168.1L491.1,169.7L491.3,171.3L491.4,172.9L491.6,174.5L491.7,176.1L491.9,177.7L492.0,179.3L492.1,180.9L492.3,182.6L492.4,184.2L492.6,185.8L492.7,187.4L492.9,189.0L493.0,190.6L493.1,192.2L493.3,193.8L493.4,195.5L493.6,197.1L493.7,198.7L493.8,200.3L494.0,201.9L494.1,203.5L494.3,205.1L494.4,206.7L494.5,208.4L494.7,210.0L494.8,211.6L495.0,213.2L495.1,214.8L495.2,216.4L495.4,218.0L495.5,219.7L495.7,221.3L495.8,222.9L495.9,224.5L496.1,226.1L496.2,227.7L496.4,229.4L496.5,231.0L496.7,232.6L496.8,234.2L496.9,235.8L497.1,237.4L497.2,239.0L497.4,240.6L497.5,242.3L497.7,243.9L497.8,245.5L498.0,247.1L498.1,248.7L498.3,250.3L498.4,251.9L498.6,253.5L498.7,255.2L498.9,256.8L499.1,258.4L499.2,260.0L499.4,261.6L499.5,263.2L499.7,264.8L499.9,266.4L500.0,268.0L500.2,269.7L500.4,271.3L500.6,272.9L500.7,274.5L500.9,276.1L501.1,277.7L501.3,279.3L501.4,280.9L501.6,282.5L501.8,284.1L502.0,285.7L502.2,287.3L502.4,288.9L502.5,290.5L502.7,292.1L502.9,293.7L503.1,295.3L503.3,296.9L503.5,298.5L503.7,300.1L504.0,301.7L504.2,303.3L504.4,304.9L504.6,306.5L504.9,308.1L505.2,309.7L505.5,311.3L505.8,312.9L506.1,314.5L506.5,316.0L506.9,317.6L507.3,319.2L507.7,320.7L508.2,322.3L508.7,323.9L509.3,325.4L509.9,327.0L510.6,328.5L511.3,330.0L512.1,331.4L512.9,332.8L513.8,334.2L514.8,335.5L515.8,336.7L517.0,337.8L518.2,338.8L519.6,339.7L521.0,340.5L522.5,340.9L524.0,341.0L525.6,340.7L527.2,340.1L528.7,339.4L530.1,338.5L531.3,337.5L532.6,336.4L533.7,335.2L534.9,334.1L536.0,332.9L537.1,331.6L538.1,330.4L539.2,329.2L540.2,327.9L541.2,326.7L542.3,325.4L543.3,324.2L544.3,322.9L545.4,321.7L546.4,320.5L547.4,319.2L548.5,318.0L549.5,316.8L550.6,315.5L551.6,314.3L552.7,313.1L553.8,311.9L554.8,310.7L555.9,309.5L557.0,308.3L558.0,307.1L559.1,305.9L560.2,304.7L561.3,303.5L562.4,302.3L563.5,301.1L564.6,299.9L565.7,298.7L566.8,297.6L567.9,296.4L569.1,295.2L570.2,294.1L571.3,292.9L572.5,291.7L573.6,290.6L574.8,289.4L575.9,288.3L577.1,287.2L578.2,286.0L579.4,284.9L580.6,283.8L581.8,282.7L583.0,281.6L584.2,280.5L585.5,279.5L586.7,278.4L587.9,277.4L589.2,276.4L590.5,275.4L591.8,274.4L593.1,273.5L594.4,272.5L595.7,271.6L597.1,270.8L598.5,269.9L599.8,269.1L601.2,268.3L602.7,267.5L604.1,266.8L605.5,266.1L607.0,265.4L608.5,264.7L610.0,264.1L611.5,263.5L613.0,262.9L614.5,262.3L616.0,261.7L617.5,261.2L619.1,260.6L620.6,260.1L622.1,259.6L623.7,259.1L625.2,258.6L626.8,258.1L628.3,257.6L629.9,257.2L631.4,256.7L633.0,256.2L634.6,255.8L636.1,255.4L637.7,254.9L639.2,254.5L640.8,254.1L642.4,253.7L644.0,253.3L645.5,253.0L647.1,252.6L648.7,252.2L650.3,251.9L651.8,251.5L653.4,251.2L655.0,250.8L656.6,250.5L658.2,250.2L659.8,249.9L661.3,249.6L662.9,249.3L664.5,249.0L666.1,248.7L667.7,248.4L669.3,248.2L670.9,247.9L672.5,247.7L674.1,247.4L675.7,247.2L677.3,246.9L678.9,246.7L680.5,246.5L682.1,246.3L683.7,246.0L685.3,245.8L686.9,245.6L688.5,245.4L690.1,245.3L691.7,245.1L693.3,244.9L694.9,244.7L696.5,244.5L698.2,244.4L699.8,244.2L701.4,244.1L703.0,243.9L704.6,243.7L706.2,243.6L707.8,243.5L709.4,243.3L711.1,243.2L712.7,243.1L714.3,242.9L715.9,242.8L717.5,242.7L719.1,242.6L720.7,242.5L722.4,242.3L724.0,242.2L725.6,242.1L727.2,242.0L728.8,241.9L730.4,241.8L732.1,241.7L733.7,241.6L735.3,241.6L736.9,241.5L738.5,241.4L740.2,241.3L741.8,241.2L743.4,241.1L745.0,241.0L746.6,241.0L748.2,240.9L749.9,240.8L751.5,240.7L753.1,240.6L754.7,240.6L756.3,240.5L758.0,240.4L759.6,240.3L761.2,240.3L762.8,240.2L764.4,240.1L766.0,240.0L767.7,240.0L769.3,239.9L770.9,239.8L772.5,239.7L774.1,239.6L775.7,239.6L777.3,239.5L779.0,239.4L780.6,239.3L782.2,239.2L783.8,239.1L785.4,239.1L786.5,239.0" stroke="#000" stroke-width="1.7"/>
<path d="M486.4,165.0L486.5,166.7L486.6,168.3L486.6,170.0L486.7,171.7L486.8,173.4L486.8,175.1L486.9,176.7L487.0,178.4L487.1,180.1L487.2,181.8L487.2,183.4L487.3,185.1L487.4,186.8L487.5,188.5L487.6,190.1L487.7,191.8L487.8,193.5L487.9,195.2L487.9,196.8L488.0,198.5L488.1,200.2L488.2,201.9L488.3,203.5L488.4,205.2L488.5,206.9L488.6,208.6L488.7,210.2L488.9,211.9L489.0,213.6L489.1,215.2L489.2,216.9L489.3,218.6L489.4,220.3L489.5,221.9L489.6,223.6L489.7,225.3L489.9,227.0L490.0,228.6L490.1,230.3L490.2,232.0L490.3,233.6L490.5,235.3L490.6,237.0L490.7,238.7L490.8,240.3L490.9,242.0L491.1,243.7L491.2,245.3L491.3,247.0L491.5,248.7L491.6,250.4L491.7,252.0L491.8,253.7L492.0,255.4L492.1,257.1L492.2,258.7L492.4,260.4L492.5,262.1L492.6,263.7L492.8,265.4L492.9,267.1L493.1,268.8L493.2,270.4L493.3,272.1L493.5,273.8L493.6,275.4L493.7,277.1L493.9,278.8L494.0,280.5L494.2,282.1L494.3,283.8L494.5,285.5L494.6,287.2L494.8,288.8L494.9,290.5L495.1,292.2L495.3,293.8L495.4,295.5L495.6,297.2L495.8,298.8L496.0,300.5L496.2,302.2L496.5,303.8L496.7,305.5L496.9,307.1L497.2,308.8L497.5,310.4L497.7,312.1L498.0,313.7L498.4,315.4L498.7,317.0L499.0,318.7L499.4,320.3L499.7,322.0L500.1,323.6L500.5,325.2L501.0,326.8L501.4,328.5L501.9,330.1L502.4,331.7L502.9,333.3L503.4,334.9L504.0,336.4L504.6,338.0L505.2,339.6L505.8,341.1L506.5,342.7L507.2,344.2L508.0,345.7L508.9,347.1L510.0,348.5L510.9,349.4L511.8,350.2L513.2,351.2L514.8,351.8L516.3,352.0L517.7,351.6L519.1,350.9L520.4,349.8L521.7,348.7L523.0,347.5L524.2,346.3L525.4,345.1L526.5,343.9L527.6,342.6L528.7,341.3L529.8,340.0L530.9,338.7L531.9,337.3L532.9,336.0L533.9,334.6L534.9,333.3L535.9,331.9L536.9,330.6L537.9,329.2L538.9,327.8L539.9,326.5L540.9,325.2L541.9,323.8L543.0,322.5L544.0,321.2L545.1,319.9L546.1,318.7L547.2,317.4L548.3,316.2L549.4,314.9L550.5,313.7L551.6,312.5L552.7,311.2L553.9,310.0L555.0,308.8L556.1,307.5L557.3,306.3L558.4,305.1L559.6,303.8L560.7,302.6L561.9,301.4L563.0,300.1L564.2,298.9L565.3,297.7L566.5,296.5L567.7,295.2L568.9,294.0L570.0,292.8L571.2,291.6L572.4,290.4L573.6,289.2L574.9,288.1L576.1,286.9L577.3,285.8L578.6,284.6L579.8,283.5L581.1,282.4L582.4,281.3L583.7,280.2L585.0,279.2L586.3,278.1L587.6,277.1L588.9,276.1L590.3,275.2L591.6,274.2L593.0,273.3L594.4,272.4L595.8,271.5L597.3,270.6L598.7,269.8L600.1,269.0L601.6,268.2L603.1,267.4L604.6,266.7L606.1,265.9L607.6,265.2L609.1,264.5L610.6,263.9L612.2,263.2L613.7,262.6L615.3,262.0L616.9,261.4L618.4,260.8L620.0,260.2L621.6,259.7L623.2,259.1L624.8,258.6L626.4,258.1L628.0,257.6L629.6,257.1L631.3,256.7L632.9,256.2L634.5,255.7L636.1,255.3L637.8,254.9L639.4,254.5L641.0,254.0L642.7,253.6L644.3,253.3L646.0,252.9L647.6,252.5L649.2,252.1L650.9,251.8L652.5,251.4L654.2,251.1L655.8,250.7L657.4,250.4L659.1,250.1L660.7,249.7L662.4,249.4L664.0,249.1L665.7,248.8L667.3,248.6L669.0,248.3L670.6,248.0L672.3,247.7L673.9,247.5L675.6,247.2L677.2,247.0L678.9,246.7L680.6,246.5L682.2,246.3L683.9,246.0L685.5,245.8L687.2,245.6L688.8,245.4L690.5,245.2L692.2,245.0L693.8,244.8L695.5,244.6L697.2,244.5L698.8,244.3L700.5,244.1L702.2,244.0L703.8,243.8L705.5,243.6L707.2,243.5L708.8,243.4L710.5,243.2L712.2,243.1L713.9,242.9L715.5,242.8L717.2,242.7L718.9,242.6L720.6,242.5L722.2,242.3L723.9,242.2L725.6,242.1L727.3,242.0L728.9,241.9L730.6,241.8L732.3,241.7L734.0,241.6L735.7,241.5L737.3,241.4L739.0,241.3L740.7,241.3L742.4,241.2L744.0,241.1L745.7,241.0L747.4,240.9L749.1,240.8L750.8,240.8L752.4,240.7L754.1,240.6L755.8,240.5L757.5,240.4L759.1,240.4L760.8,240.3L762.5,240.2L764.2,240.1L765.8,240.1L767.5,240.0L769.2,239.9L770.9,239.8L772.5,239.7L774.2,239.6L775.9,239.6L777.6,239.5L779.2,239.4L780.9,239.3L782.6,239.2L784.2,239.1L785.9,239.0L786.5,239.0" stroke="#ff0000" stroke-width="1.8" stroke-dasharray="9 4.8" stroke-dashoffset="6"/>
</g>
<g stroke="#000" fill="none"><rect x="482.8" y="186.4" width="303.3" height="170.4" stroke-width="1.85"/>
<path d="M489.32,356.8v-5.6M489.32,186.4v5.6M522.30,356.8v-11M522.30,186.4v11M555.27,356.8v-5.6M555.27,186.4v5.6M588.25,356.8v-11M588.25,186.4v11M621.22,356.8v-5.6M621.22,186.4v5.6M654.20,356.8v-11M654.20,186.4v11M687.17,356.8v-5.6M687.17,186.4v5.6M720.15,356.8v-11M720.15,186.4v11M753.12,356.8v-5.6M753.12,186.4v5.6M482.8,352.05h5.6M786.1,352.05h-5.6M482.8,339.10h11M786.1,339.10h-11M482.8,326.15h5.6M786.1,326.15h-5.6M482.8,313.20h11M786.1,313.20h-11M482.8,300.25h5.6M786.1,300.25h-5.6M482.8,287.30h11M786.1,287.30h-11M482.8,274.35h5.6M786.1,274.35h-5.6M482.8,261.40h11M786.1,261.40h-11M482.8,248.45h5.6M786.1,248.45h-5.6M482.8,235.50h11M786.1,235.50h-11M482.8,222.55h5.6M786.1,222.55h-5.6M482.8,209.60h11M786.1,209.60h-11M482.8,196.65h5.6M786.1,196.65h-5.6" stroke-width="1.3"/></g>
<g font-family="Liberation Serif, serif" font-size="19.5" fill="#000">
<text x="478.0" y="346.30" text-anchor="end">-200</text>
<text x="478.0" y="320.40" text-anchor="end">-150</text>
<text x="478.0" y="294.50" text-anchor="end">-100</text>
<text x="478.0" y="268.60" text-anchor="end">-50</text>
<text x="478.0" y="242.70" text-anchor="end">0</text>
<text x="478.0" y="216.80" text-anchor="end">50</text>
<text x="522.70" y="375.4" text-anchor="middle">3</text>
<text x="588.65" y="375.4" text-anchor="middle">4</text>
<text x="654.60" y="375.4" text-anchor="middle">5</text>
<text x="720.55" y="375.4" text-anchor="middle">6</text>
<text x="786.50" y="375.4" text-anchor="middle">7</text>
</g>
<rect x="613.8" y="282.3" width="167.4" height="52.5" fill="#fff" stroke="#000" stroke-width="1.6"/>
<path d="M619.8,298H642.5" stroke="#000" stroke-width="1.7"/>
<path d="M619.8,322H642.5" stroke="#ff0000" stroke-width="1.8" stroke-dasharray="9.8 3.3"/>
<g font-family="Liberation Serif, serif" font-size="15.4" fill="#000">
<text x="654" y="302.3" textLength="121.9" lengthAdjust="spacing">Spherical He<tspan font-size="11.1" dy="5.4">3</tspan><tspan font-size="12.9" dy="-13.0">+</tspan><tspan dy="7.6"> - He</tspan></text>
<text x="654" y="328.3" textLength="46.7" lengthAdjust="spacing">K<tspan font-size="12.9" dy="-7.0">+</tspan><tspan dy="7.0"> - He</tspan></text>
</g>
</svg>
</body></html>
